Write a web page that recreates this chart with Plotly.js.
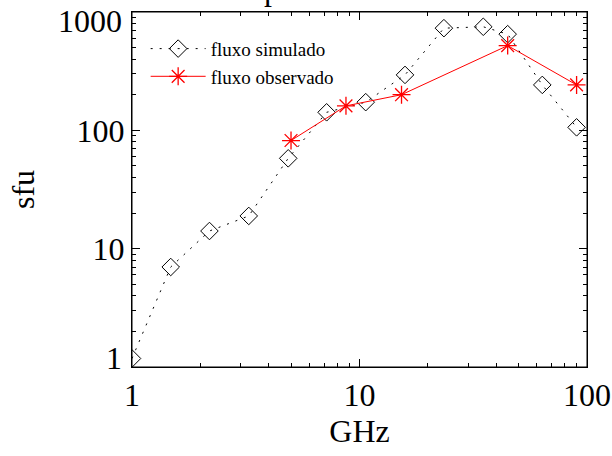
<!DOCTYPE html>
<html>
<head>
<meta charset="utf-8">
<script src="https://cdn.plot.ly/plotly-3.0.1.min.js"></script>
<style>
  html, body { margin: 0; padding: 0; background: #fff; }
  #chart { width: 612px; height: 456px; }
</style>
</head>
<body>
<div id="chart"></div>
<script>
// Simulated spectrum (GHz, sfu)
const simFreq = [1, 1.48, 2.19, 3.26, 4.86, 7.17, 10.65, 15.85, 23.5, 35.0, 44.8, 63.6, 90];
const simFlux = [1.18, 7.0, 14.1, 18.9, 58, 142, 173, 294, 730, 750, 650, 242, 106];

// Observed spectrum (GHz, sfu)
const obsFreq = [5.0, 8.72, 15.3, 44.8, 90];
const obsFlux = [82, 161, 200, 520, 242];

// Decade tick labels
const xTickVals = [1, 10, 100];
const xTickText = ['1', '10', '100'];
const yTickVals = [1, 10, 100, 1000];
const yTickText = ['1', '10', '100', '1000'];

const serif = 'Liberation Serif, Times New Roman, serif';
const tickFont = { family: serif, size: 32, color: 'black' };

// Minor tick positions 2..9 in every decade of a log range
function minorTicks(decades) {
  const out = [];
  for (let d = 0; d < decades; d++) {
    for (let k = 2; k <= 9; k++) out.push(k * Math.pow(10, d));
  }
  return out;
}

const traces = [
  {
    x: simFreq, y: simFlux,
    name: 'fluxo simulado',
    type: 'scatter', mode: 'lines+markers',
    line: { color: 'black', width: 1, dash: '2px,7px' },
    marker: { symbol: 'diamond-open', size: 13.5, color: 'black', line: { width: 1, color: 'black' } }
  },
  {
    x: obsFreq, y: obsFlux,
    name: 'fluxo observado',
    type: 'scatter', mode: 'lines+markers',
    line: { color: '#ff0000', width: 1 },
    marker: { symbol: 'asterisk-open', size: 15, color: '#ff0000', line: { width: 1.3, color: '#ff0000' } }
  }
];

// Decade axes: long inside ticks, short minor ticks, mirrored on the opposite side
function logAxis(range, vals, text, decades, titleText, standoff) {
  return {
    type: 'log',
    range: range,
    tickmode: 'array', tickvals: vals, ticktext: text,
    showgrid: false, zeroline: false,
    showline: true, linecolor: '#000000', linewidth: 1,
    mirror: 'ticks',
    ticks: 'inside', ticklen: 8, tickwidth: 1, tickcolor: '#000000',
    minor: {
      tickmode: 'array', tickvals: minorTicks(decades),
      ticks: 'inside', ticklen: 4, tickwidth: 1, tickcolor: '#000000', showgrid: false
    },
    tickfont: tickFont,
    ticklabeloverflow: 'allow',
    automargin: false,
    title: { text: titleText, font: { family: serif, size: 32, color: 'black' }, standoff: standoff }
  };
}

// The end decades of the y axis are labelled slightly inside the frame
const yEnds = [0, yTickVals.length - 1];
const yMainText = yTickText.map((t, i) => yEnds.includes(i) ? '' : t);
const yEndLabels = yEnds.map(i => ({
  xref: 'paper', x: 0, xanchor: 'right', xshift: -8,
  yref: 'y', y: Math.log10(yTickVals[i]), yanchor: 'middle',
  yshift: i === 0 ? 9 : -9,
  text: yTickText[i], showarrow: false,
  font: tickFont
}));

const layout = {
  width: 612, height: 456,
  margin: { l: 132, r: 25, t: 12, b: 89 },
  paper_bgcolor: 'white', plot_bgcolor: 'white',
  title: {
    text: 'Espectro',
    font: { family: serif, size: 32, color: 'black' },
    xref: 'container', yref: 'container',
    x: 0.379, xanchor: 'left', y: 1, yanchor: 'bottom'
  },
  xaxis: logAxis([0, 2], xTickVals, xTickText, 2, 'GHz', 7),
  yaxis: logAxis([0, 3], yTickVals, yMainText, 3, 'sfu', 32),
  annotations: yEndLabels,
  shapes: [{
    type: 'rect', xref: 'paper', yref: 'paper',
    x0: 0, x1: 1, y0: 0, y1: 1,
    line: { color: '#000000', width: 1 }, fillcolor: 'rgba(0,0,0,0)'
  }],
  showlegend: true,
  legend: {
    x: 0.03, y: 0.95, xanchor: 'left', yanchor: 'top',
    bgcolor: 'rgba(0,0,0,0)', borderwidth: 0,
    font: { family: serif, size: 19, color: 'black' },
    itemwidth: 55, tracegroupgap: 0,
    itemclick: false
  }
};

Plotly.newPlot('chart', traces, layout, { displayModeBar: false });
</script>
</body>
</html>
